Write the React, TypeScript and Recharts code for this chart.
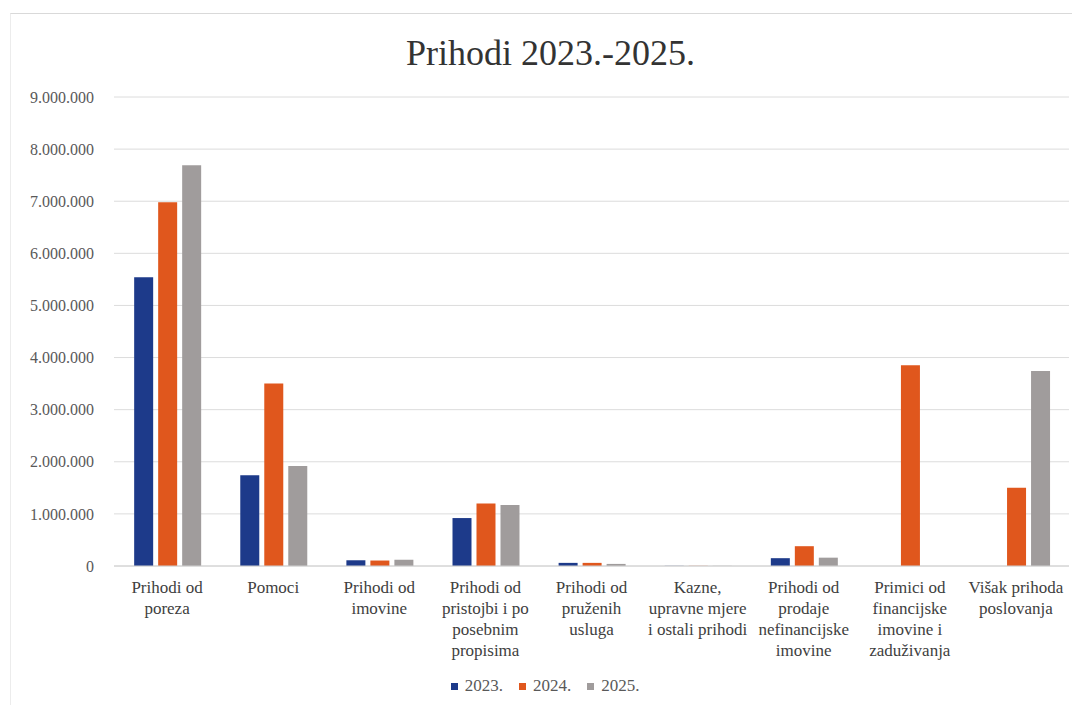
import { BarChart, Bar, XAxis, YAxis, CartesianGrid, Legend } from 'recharts';

const categories = [
  'Prihodi od\nporeza',
  'Pomoci',
  'Prihodi od\nimovine',
  'Prihodi od\npristojbi i po\nposebnim\npropisima',
  'Prihodi od\npruženih\nusluga',
  'Kazne,\nupravne mjere\ni ostali prihodi',
  'Prihodi od\nprodaje\nnefinancijske\nimovine',
  'Primici od\nfinancijske\nimovine i\nzaduživanja',
  'Višak prihoda\nposlovanja',
];

const values2023 = [5540000, 1740000, 110000, 920000, 60000, 3000, 150000, 0, 0];
const values2024 = [6980000, 3500000, 105000, 1200000, 60000, 3000, 380000, 3850000, 1500000];
const values2025 = [7690000, 1920000, 120000, 1170000, 40000, 3000, 160000, 0, 3740000];

const yTicks = [0, 1000000, 2000000, 3000000, 4000000, 5000000, 6000000, 7000000, 8000000, 9000000];

const seriesKeys = ['2023.', '2024.', '2025.'];
const seriesColors = ['#1d3a8a', '#e0571d', '#a09c9c'];

const data = categories.map((name, i) => ({
  name,
  '2023.': values2023[i],
  '2024.': values2024[i],
  '2025.': values2025[i],
}));

const FONT = 'Liberation Serif, Times New Roman, serif';

// thousands with dots, e.g. 9.000.000
const formatNumber = (v: number) => String(v).replace(/\B(?=(\d{3})+(?!\d))/g, '.');

const CategoryTick = ({ x, y, payload }: any) => {
  const lines = String(payload.value).split('\n');
  return (
    <text x={x} y={y} textAnchor="middle" fill="#404040" fontSize={17} style={{ fontFamily: FONT }}>
      {lines.map((line, i) => (
        <tspan key={i} x={x} dy={i === 0 ? 19 : 21}>
          {line}
        </tspan>
      ))}
    </text>
  );
};

const LegendContent = () => (
  <div
    style={{
      display: 'flex',
      justifyContent: 'center',
      alignItems: 'center',
      paddingLeft: 26,
      fontFamily: FONT,
      fontSize: 17,
      color: '#595959',
    }}
  >
    {seriesKeys.map((key, i) => (
      <span key={key} style={{ display: 'flex', alignItems: 'center', marginRight: 16 }}>
        <span
          style={{ width: 7, height: 7, background: seriesColors[i], display: 'inline-block', marginRight: 7 }}
        />
        {key}
      </span>
    ))}
  </div>
);

export default function App() {
  return (
    <div
      style={{
        position: 'relative',
        width: 1070,
        height: 692,
        marginTop: 5,
        marginLeft: 2,
        borderTop: '1px solid #d9d9d9',
        borderLeft: '1px solid #ececec',
        boxSizing: 'border-box',
        background: '#fff',
        fontFamily: FONT,
      }}
    >
      <div
        style={{
          position: 'absolute',
          top: 19,
          left: 10,
          right: 0,
          textAlign: 'center',
          fontSize: 36,
          lineHeight: '40px',
          color: '#333',
        }}
      >
        Prihodi 2023.-2025.
      </div>
      <BarChart
        width={1070}
        height={692}
        data={data}
        margin={{ top: 83, right: 12, left: 0, bottom: 0 }}
        barCategoryGap="19%"
        barGap={5}
        style={{ fontFamily: FONT }}
      >
        <CartesianGrid vertical={false} stroke="#dcdcdc" />
        <XAxis
          dataKey="name"
          interval={0}
          tick={<CategoryTick />}
          tickLine={false}
          axisLine={{ stroke: '#d0d0d0' }}
          height={110}
        />
        <YAxis
          domain={[0, 9000000]}
          ticks={yTicks}
          tickFormatter={formatNumber}
          tick={{ fontSize: 16, fill: '#595959', style: { fontFamily: FONT } }}
          tickMargin={14}
          axisLine={false}
          tickLine={false}
          width={103}
        />
        <Legend verticalAlign="bottom" height={30} content={<LegendContent />} />
        {seriesKeys.map((key, i) => (
          <Bar key={key} dataKey={key} fill={seriesColors[i]} isAnimationActive={false} />
        ))}
      </BarChart>
    </div>
  );
}
